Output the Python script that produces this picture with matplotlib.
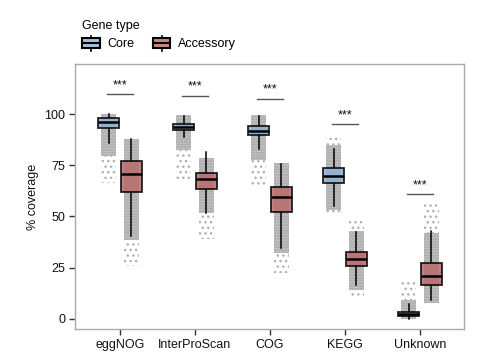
import numpy as np
import matplotlib
matplotlib.use('Agg')
import matplotlib.pyplot as plt
from matplotlib.patches import Rectangle
from matplotlib.lines import Line2D
from matplotlib.legend_handler import HandlerBase

plt.rcParams['font.family'] = ['Liberation Sans', 'DejaVu Sans']
plt.rcParams['hatch.linewidth'] = 1.0

categories = ['eggNOG', 'InterProScan', 'COG', 'KEGG', 'Unknown']

# core genes: box stats
core_whislo = [86.1, 88.7, 83.1, 55.2, 0.0]
core_q1 = [93.1, 92.4, 89.7, 66.3, 1.3]
core_med = [96.0, 93.9, 91.9, 70.0, 2.4]
core_q3 = [98.0, 95.2, 94.0, 73.6, 3.4]
core_whishi = [100.0, 99.1, 99.1, 82.8, 7.3]
# extent of the point clouds (dense part, sparse tails)
core_dense_lo = [79.3, 82.5, 77.6, 53.3, 0.0]
core_dense_hi = [100.0, 99.5, 99.5, 85.0, 9.4]
core_tail_lo = [66.3, 68.2, 65.4, 51.7, 0.0]
core_tail_hi = [100.0, 99.5, 99.5, 88.7, 19.2]

# accessory genes
acc_whislo = [40.3, 51.7, 34.4, 16.6, 9.1]
acc_q1 = [61.9, 63.4, 52.1, 25.6, 16.4]
acc_med = [70.8, 68.2, 59.5, 29.2, 21.0]
acc_q3 = [77.0, 71.1, 64.3, 32.6, 27.4]
acc_whishi = [87.9, 81.5, 75.5, 42.5, 42.7]
acc_dense_lo = [38.6, 51.7, 32.1, 14.3, 8.0]
acc_dense_hi = [88.0, 78.5, 76.0, 43.0, 42.0]
acc_tail_lo = [25.6, 39.1, 22.4, 11.4, 8.0]
acc_tail_hi = [88.0, 78.5, 76.0, 47.6, 57.3]

# significance bars
sig_y = [109.8, 109.0, 107.5, 95.0, 60.9]
sig_label = ['***', '***', '***', '***', '***']

core_color = '#8fb0cf'
acc_color = '#b86a6a'

fig = plt.figure(figsize=(4.81, 3.57), dpi=100)
ax = fig.add_axes([0.156, 0.078, 0.809, 0.742])

x = np.arange(len(categories))
offset = 0.15
box_w = 0.28
cloud_w = 0.2


def draw_clouds(pos, dense_lo, dense_hi, tail_lo, tail_hi):
    for p, dl, dh, tl, th in zip(pos, dense_lo, dense_hi, tail_lo, tail_hi):
        # sparse tails
        ax.add_patch(Rectangle((p - cloud_w / 2, tl), cloud_w, th - tl,
                               facecolor='none', edgecolor='#b0b0b0',
                               hatch='...', linewidth=0, zorder=1))
        # dense part
        ax.add_patch(Rectangle((p - cloud_w / 2, dl), cloud_w, dh - dl,
                               facecolor='#c2c2c2', edgecolor='#a0a0a0',
                               hatch='......', linewidth=0, zorder=1))


draw_clouds(x - offset, core_dense_lo, core_dense_hi, core_tail_lo, core_tail_hi)
draw_clouds(x + offset, acc_dense_lo, acc_dense_hi, acc_tail_lo, acc_tail_hi)


def stats(wl, q1, med, q3, wh):
    return [dict(whislo=a, q1=b, med=c, q3=d, whishi=e, fliers=[])
            for a, b, c, d, e in zip(wl, q1, med, q3, wh)]


for st, pos, col in [
        (stats(core_whislo, core_q1, core_med, core_q3, core_whishi), x - offset, core_color),
        (stats(acc_whislo, acc_q1, acc_med, acc_q3, acc_whishi), x + offset, acc_color)]:
    bp = ax.bxp(st, positions=pos, widths=box_w, patch_artist=True,
                showcaps=False, showfliers=False, manage_ticks=False,
                boxprops=dict(facecolor=col, edgecolor='black', linewidth=1.3, alpha=0.85),
                medianprops=dict(color='black', linewidth=1.8),
                whiskerprops=dict(color='black', linewidth=1.1))
    for b in bp['boxes']:
        b.set_zorder(3)
        b.set_edgecolor('black')
    for m in bp['medians']:
        m.set_zorder(4)
    for w in bp['whiskers']:
        w.set_zorder(2)

for xi, yi, lab in zip(x, sig_y, sig_label):
    ax.plot([xi - 0.17, xi + 0.17], [yi, yi], color='#555555', lw=1.0)
    ax.text(xi, yi + 4.3, lab, ha='center', va='center', fontsize=9, color='#111111')

ax.set_xlim(-0.6, 4.59)
ax.set_ylim(-5, 124.3)
ax.set_xticks(x)
ax.set_xticklabels(categories, fontsize=9, color='#111111')
ax.set_yticks([0, 25, 50, 75, 100])
ax.set_yticklabels(['0', '25', '50', '75', '100'], fontsize=9, color='#111111')
ax.set_ylabel('% coverage', fontsize=9, color='#111111')
ax.tick_params(length=4, width=1, color='#333333', pad=3)
for s in ax.spines.values():
    s.set_color('#aaaaaa')
    s.set_linewidth(1.0)


class BoxHandler(HandlerBase):
    def create_artists(self, legend, orig_handle, xdescent, ydescent,
                       width, height, fontsize, trans):
        col = orig_handle.get_facecolor()
        x0, y0 = -xdescent, -ydescent
        bh = height * 0.68
        rect = Rectangle((x0, y0 + (height - bh) / 2), width, bh,
                         facecolor=col, edgecolor='black', lw=1.5, transform=trans)
        med = Line2D([x0, x0 + width], [y0 + height / 2] * 2, color='black', lw=1.5,
                     transform=trans)
        wh1 = Line2D([x0 + width / 2] * 2, [y0, y0 + (height - bh) / 2], color='black',
                     lw=1.2, transform=trans)
        wh2 = Line2D([x0 + width / 2] * 2, [y0 + (height + bh) / 2, y0 + height],
                     color='black', lw=1.2, transform=trans)
        return [wh1, wh2, rect, med]


handles = [Rectangle((0, 0), 1, 1, facecolor='#a9c1d9'),
           Rectangle((0, 0), 1, 1, facecolor='#c98787')]
fig.legend(handles, ['Core', 'Accessory'], title='Gene type', ncol=2,
           loc='upper left', bbox_to_anchor=(0.155, 0.965), frameon=False,
           fontsize=9, title_fontsize=9, alignment='left',
           handler_map={Rectangle: BoxHandler()},
           handlelength=1.4, handleheight=1.45, handletextpad=0.6,
           columnspacing=1.5, borderpad=0.1, labelspacing=0.3)

fig.savefig('out.png', dpi=100)
